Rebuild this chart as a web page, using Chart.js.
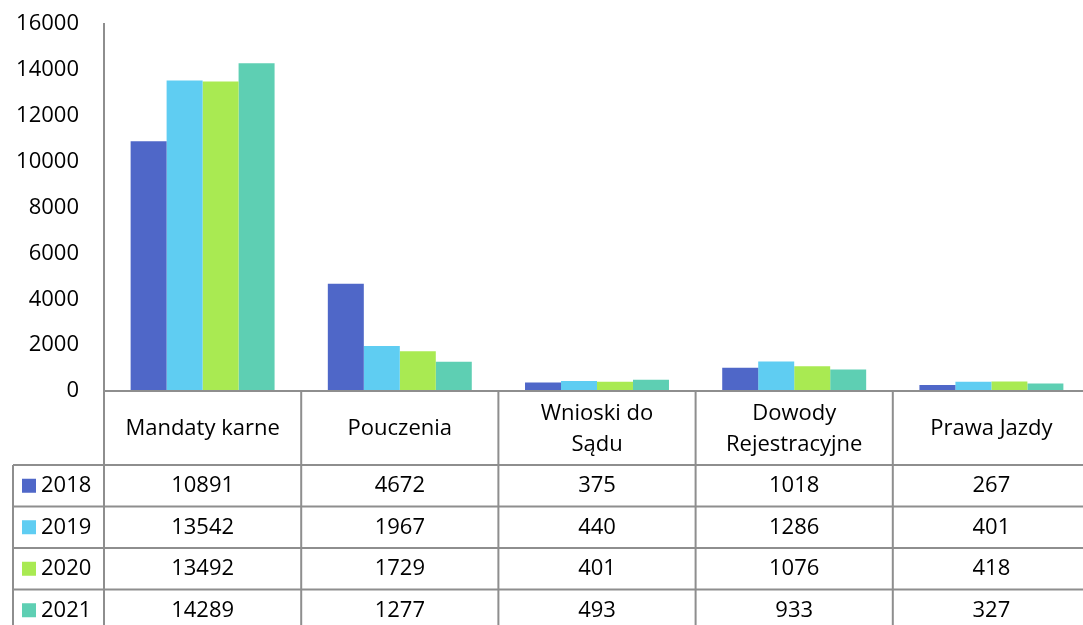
<!DOCTYPE html>
<html>
<head>
<meta charset="utf-8">
<script src="https://cdn.jsdelivr.net/npm/chart.js@4/dist/chart.umd.min.js"></script>
<style>
  html, body { margin: 0; padding: 0; background: #fff; overflow: hidden; }
  #wrap { width: 1090px; height: 625px; position: relative; }
</style>
</head>
<body>
<div id="wrap"><canvas id="chart"></canvas></div>
<script>
const categories = ['Mandaty karne', 'Pouczenia', ['Wnioski do', 'Sądu'], ['Dowody', 'Rejestracyjne'], 'Prawa Jazdy'];
const years = ['2018', '2019', '2020', '2021'];
const values2018 = [10891, 4672, 375, 1018, 267];
const values2019 = [13542, 1967, 440, 1286, 401];
const values2020 = [13492, 1729, 401, 1076, 418];
const values2021 = [14289, 1277, 493, 933, 327];
const colors = ['#4f67c8', '#5fcdf2', '#a9ea52', '#5ecfb3'];
const yTicks = [0, 2000, 4000, 6000, 8000, 10000, 12000, 14000, 16000];

const seriesValues = [values2018, values2019, values2020, values2021];
const FONT = "'Open Sans', sans-serif";
const LINE = '#8e8e8e';

// table under the plot, drawn from the same arrays
const dataTable = {
    id: 'dataTable',
    afterDraw(chart) {
        const ctx = chart.ctx;
        const area = chart.chartArea;
        const x = chart.scales.x;
        const headerH = 74;
        const rowH = 41.5;
        const legendLeft = 13;
        const top = area.bottom;
        const bottom = chart.height + 10;
        const step = x.getPixelForValue(1) - x.getPixelForValue(0);
        const edges = categories.map((_, i) => x.getPixelForValue(i) - step / 2);

        ctx.save();
        ctx.strokeStyle = LINE;
        ctx.lineWidth = 2;
        ctx.beginPath();
        ctx.moveTo(area.left, top);
        ctx.lineTo(area.right, top);
        edges.forEach((ex) => {
            ctx.moveTo(ex, top);
            ctx.lineTo(ex, bottom);
        });
        ctx.moveTo(legendLeft, top + headerH);
        ctx.lineTo(legendLeft, bottom);
        for (let r = 0; r < years.length; r++) {
            const y = top + headerH + r * rowH;
            ctx.moveTo(legendLeft, y);
            ctx.lineTo(area.right, y);
        }
        ctx.stroke();

        ctx.fillStyle = '#000';
        ctx.font = '22px ' + FONT;
        ctx.textAlign = 'center';
        ctx.textBaseline = 'middle';
        categories.forEach((c, i) => {
            const cx = x.getPixelForValue(i);
            const lines = Array.isArray(c) ? c : [c];
            const lh = 31;
            const cy = top + headerH / 2 + 1;
            lines.forEach((t, k) => {
                ctx.fillText(t, cx, cy + (k - (lines.length - 1) / 2) * lh);
            });
        });

        years.forEach((yr, r) => {
            const cy = top + headerH + r * rowH + rowH / 2;
            ctx.fillStyle = colors[r];
            ctx.fillRect(22, cy - 7, 14, 14);
            ctx.fillStyle = '#000';
            ctx.textAlign = 'left';
            ctx.fillText(yr, 41, cy);
            ctx.textAlign = 'center';
            seriesValues[r].forEach((v, i) => {
                ctx.fillText(String(v), x.getPixelForValue(i), cy);
            });
        });
        ctx.restore();
    }
};

new Chart(document.getElementById('chart'), {
    type: 'bar',
    data: {
        labels: categories,
        datasets: years.map((yr, i) => ({
            label: yr,
            data: seriesValues[i],
            backgroundColor: colors[i],
            borderWidth: 0,
            categoryPercentage: 0.73,
            barPercentage: 1
        }))
    },
    options: {
        responsive: true,
        maintainAspectRatio: false,
        animation: false,
        layout: { padding: { top: 24, bottom: 234, left: 0, right: 0 } },
        plugins: {
            legend: { display: false },
            tooltip: { enabled: false }
        },
        scales: {
            x: { display: false },
            y: {
                min: 0,
                max: 16000,
                afterBuildTicks: (scale) => { scale.ticks = yTicks.map(v => ({ value: v })); },
                afterFit: (scale) => { scale.width = 104; },
                // invisible tick marks just push the labels away from the axis
                grid: { display: true, color: 'transparent', drawTicks: true, tickLength: 25 },
                border: { display: true, color: LINE, width: 2 },
                ticks: {
                    color: '#000',
                    padding: 0,
                    font: { family: FONT, size: 22, lineHeight: 1 },
                    callback: (v) => String(v)
                }
            }
        }
    },
    plugins: [dataTable]
});
</script>
</body>
</html>
